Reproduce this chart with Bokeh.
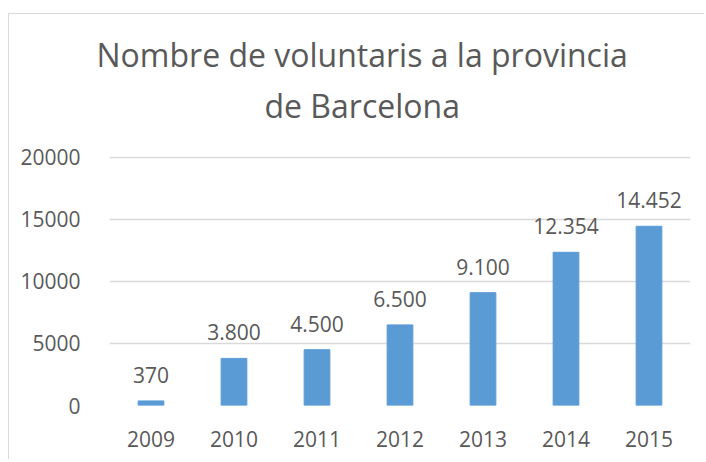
from bokeh.plotting import figure
from bokeh.models import ColumnDataSource, Range1d, FactorRange, FixedTicker, Title
from bokeh.core.properties import value
from bokeh.embed import file_html
from bokeh.resources import INLINE

years = ["2009", "2010", "2011", "2012", "2013", "2014", "2015"]
volunteers = [370, 3800, 4500, 6500, 9100, 12354, 14452]
y_ticks = [0, 5000, 10000, 15000, 20000]
title_lines = ["Nombre de voluntaris a la provincia", "de Barcelona"]

labels = [f"{v:,}".replace(",", ".") for v in volunteers]
src = ColumnDataSource(dict(year=years, val=volunteers, lab=labels))

FONT = "Open Sans"
TXT = "#595959"

p = figure(x_range=FactorRange(*years), y_range=Range1d(0, 20080),
           width=696, height=446, output_backend="svg", toolbar_location=None,
           title=None, min_border_left=100, min_border_right=15,
           min_border_top=142, min_border_bottom=55)
p.margin = (13, 0, 0, 8)
p.styles = {"border-left": "1px solid #d9d9d9", "border-top": "1px solid #d9d9d9"}
p.outline_line_color = None
p.background_fill_color = "white"
p.border_fill_color = "white"

p.vbar(x="year", top="val", width=0.31, source=src, color="#5B9BD5")
p.text(x="year", y="val", text="lab", source=src, text_align="center",
       text_baseline="alphabetic", y_offset=-26, text_color=TXT,
       text_font=value(FONT), text_font_size="21px")

for ax in (p.xaxis, p.yaxis):
    ax.axis_line_color = None
    ax.major_tick_line_color = None
    ax.minor_tick_line_color = None
    ax.major_label_text_color = TXT
    ax.major_label_text_font = FONT
    ax.major_label_text_font_size = "21px"
p.yaxis.ticker = FixedTicker(ticks=y_ticks)
p.yaxis.major_label_standoff = 23
p.xaxis.major_label_standoff = 19

p.xgrid.grid_line_color = None
p.ygrid.grid_line_color = "#d9d9d9"
p.ygrid.grid_line_width = 1.5

# spacer between frame and title lines
p.add_layout(Title(text=" ", align="left", standoff=6, text_font=FONT,
                   text_font_size="14px"), "above")
p.add_layout(Title(text=title_lines[1], align="left", offset=155, standoff=6,
                   text_color=TXT, text_font=FONT, text_font_size="32px",
                   text_font_style="normal"), "above")
p.add_layout(Title(text=title_lines[0], align="left", offset=-13, standoff=6,
                   text_color=TXT, text_font=FONT, text_font_size="32px",
                   text_font_style="normal"), "above")

open("out.html", "w").write(file_html(p, INLINE))
